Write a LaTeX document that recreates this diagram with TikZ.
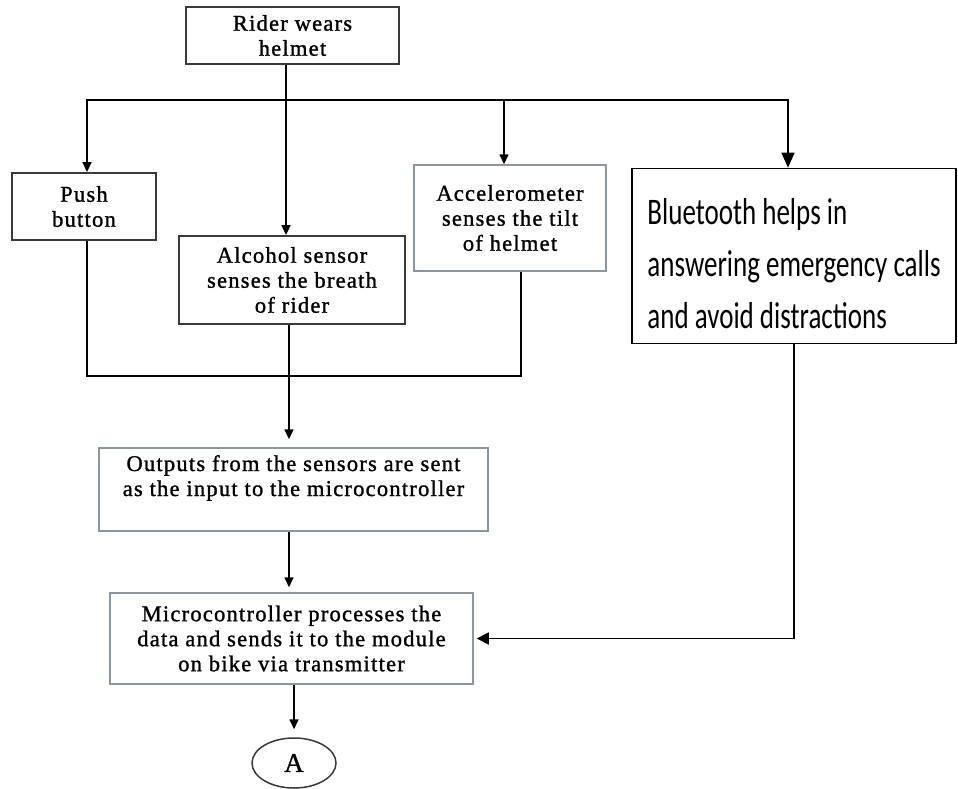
\documentclass[tikz,border=0pt]{standalone}
\usepackage{fontspec}
\usepackage{graphicx}
\setmainfont{Liberation Serif}[LetterSpace=5.5,FakeBold=1.2]
\newfontfamily\btfont{Carlito}
\usetikzlibrary{shapes.geometric,arrows.meta}
\definecolor{boxdark}{HTML}{3A3A3A}
\definecolor{boxblue}{HTML}{8C96A0}
\begin{document}
\begin{tikzpicture}[x=1pt,y=-1pt,
  every node/.style={font=\fontsize{22.5}{25}\selectfont},
  dbox/.style={draw=boxdark,line width=1.8pt,align=center,inner sep=0pt},
  gbox/.style={draw=boxblue,line width=1.5pt,align=center,inner sep=0pt},
  conn/.style={draw=black,line width=1.6pt},
  arr/.style={conn,-{Triangle[length=10pt,width=9pt]}},
  midarr/.style={conn,-{Triangle[length=12pt,width=12pt]}},
  bigarr/.style={conn,-{Triangle[length=15pt,width=13pt]}}]
\useasboundingbox (0,0) rectangle (958,789);
\node[dbox,minimum width=213pt,minimum height=57pt] (rider) at (292.5,35.5) {Rider wears\\helmet};
\node[dbox,minimum width=144pt,minimum height=67pt] (push) at (84,206.5) {Push\\button};
\node[dbox,minimum width=226pt,minimum height=88pt] (alc) at (292,280) {Alcohol sensor\\senses the breath\\of rider};
\node[gbox,minimum width=192pt,minimum height=106pt] (acc) at (510,218) {Accelerometer\\senses the tilt\\of helmet};
\node[draw=black,line width=1.5pt,minimum width=324pt,minimum height=174pt,inner sep=0pt] (bt) at (794,256) {\raisebox{0pt}[\dimexpr\height+20pt\relax][\depth]{\scalebox{1}[1.39]{\btfont\fontsize{27}{37.2}\selectfont\begin{tabular}{@{}l@{}}Bluetooth helps in\\answering emergency calls\\and avoid distractions\end{tabular}}}};
\node[gbox,minimum width=389pt,minimum height=83pt] (out) at (293.5,489.5) {\raisebox{0pt}[\height][\dimexpr\depth+22pt\relax]{\begin{tabular}{@{}c@{}}Outputs from the sensors are sent\\as the input to the microcontroller\end{tabular}}};
\node[gbox,minimum width=363pt,minimum height=91pt] (mc) at (291.5,638.5) {Microcontroller processes the\\data and sends it to the module\\on bike via transmitter};
\node[draw=boxdark,line width=1.5pt,ellipse,minimum width=84pt,minimum height=50pt,inner sep=0pt,font=\fontsize{27}{30}\selectfont] (A) at (294,763) {A};
\coordinate (j) at (286,100);
\coordinate (m) at (289,376);
\draw[arr] ([xshift=-6.5pt]rider.south) -- ([xshift=-6pt]alc.north);
\draw[arr] (j) -| ([xshift=3pt]push.north);
\draw[arr] (j) -| ([xshift=-6pt]acc.north);
\draw[bigarr] (j) -| ([xshift=-6pt]bt.north);
\draw[conn] ([xshift=3pt]push.south) |- (m) -| ([xshift=11pt]acc.south);
\draw[arr,shorten >=8pt] ([xshift=-3pt]alc.south) -- ([xshift=-4.5pt]out.north);
\draw[arr,shorten >=5pt] ([xshift=-4.5pt]out.south) -- ([xshift=-2.5pt]mc.north);
\draw[arr,shorten >=8pt] (A.north |- mc.south) -- (A.north);
\draw[midarr,shorten >=3pt] (bt.south) |- (mc.east);
\end{tikzpicture}
\end{document}
